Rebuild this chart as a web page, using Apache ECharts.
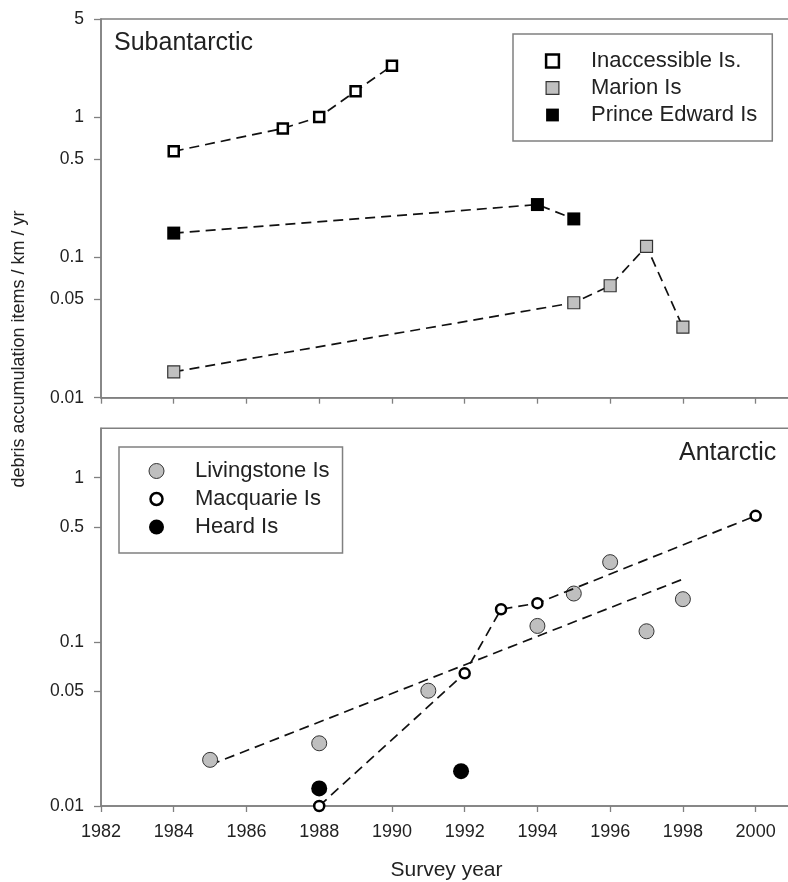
<!DOCTYPE html>
<html>
<head>
<meta charset="utf-8">
<script src="https://cdn.jsdelivr.net/npm/echarts@6/dist/echarts.min.js"></script>
<style>
html,body{margin:0;padding:0;background:#fff;overflow:hidden;}
#chart{width:788px;height:882px;}
</style>
</head>
<body>
<div id="chart"></div>
<script>
// ---- data ----
const xTickYears = [1982, 1984, 1986, 1988, 1990, 1992, 1994, 1996, 1998, 2000];
const topYTicks = [0.01, 0.05, 0.1, 0.5, 1, 5];
const botYTicks = [0.01, 0.05, 0.1, 0.5, 1];

const inaccYears = [1984, 1987, 1988, 1989, 1990];
const inaccVals  = [0.57, 0.83, 1.0, 1.53, 2.32];
const marionYears = [1984, 1995, 1996, 1997, 1998];
const marionVals  = [0.0153, 0.0475, 0.0628, 0.12, 0.0318];
const peYears = [1984, 1994, 1995];
const peVals  = [0.149, 0.238, 0.188];

const livYears = [1985, 1988, 1991, 1994, 1995, 1996, 1997, 1998];
const livVals  = [0.0191, 0.0241, 0.0504, 0.125, 0.197, 0.306, 0.116, 0.182];
const livTrendYears = [1985, 1998];
const livTrendVals  = [0.0178, 0.241];
const macYears = [1988, 1992, 1993, 1994, 2000];
const macVals  = [0.01, 0.0643, 0.158, 0.172, 0.586];
const heardYears = [1988, 1991.9];
const heardVals  = [0.0128, 0.0163];

function pairs(xs, ys) { return xs.map((x, i) => [x, ys[i]]); }

const FONT = '"Liberation Sans", Arial, sans-serif';
const AX = '#808080';
const TXT = '#222';
const dash = { color: '#111', width: 1.7, type: [10, 6] };

const chart = echarts.init(document.getElementById('chart'));

function xAxisCfg(gridIndex, showLabels) {
  return {
    type: 'value', gridIndex, min: 1982, max: 2001, interval: 2,
    axisLine: { show: true, lineStyle: { color: AX, width: 1.5 } },
    axisTick: { show: true, length: 6, lineStyle: { color: AX, width: 1.3 }, customValues: xTickYears },
    axisLabel: { show: showLabels, margin: 17, fontSize: 18, color: TXT, fontFamily: FONT, customValues: xTickYears,
      formatter: v => String(Math.round(v)) },
    splitLine: { show: false },
    name: showLabels ? 'Survey year' : '',
    nameLocation: 'middle', nameGap: 54,
    nameTextStyle: { fontSize: 21, color: TXT, fontFamily: FONT }
  };
}
function yAxisCfg(gridIndex, max, ticks) {
  return {
    type: 'log', logBase: 10, gridIndex, min: 0.01, max,
    axisLine: { show: true, lineStyle: { color: AX, width: 1.5 } },
    axisTick: { show: true, length: 7, lineStyle: { color: AX, width: 1.3 }, customValues: ticks },
    axisLabel: { margin: 17, fontSize: 17.5, color: TXT, fontFamily: FONT, customValues: ticks,
      formatter: v => String(+(+v).toPrecision(6)) },
    splitLine: { show: false },
    minorTick: { show: false }
  };
}

const option = {
  animation: false,
  backgroundColor: '#fff',
  textStyle: { fontFamily: FONT },
  grid: [
    { left: 101, top: 19, width: 691, height: 378.7, outerBoundsMode: 'none', containLabel: false,
      show: true, borderColor: AX, borderWidth: 1.5, backgroundColor: 'transparent' },
    { left: 101, top: 428.3, width: 691, height: 377.7, outerBoundsMode: 'none', containLabel: false,
      show: true, borderColor: AX, borderWidth: 1.5, backgroundColor: 'transparent' }
  ],
  xAxis: [xAxisCfg(0, false), xAxisCfg(1, true)],
  yAxis: [yAxisCfg(0, 5, topYTicks), yAxisCfg(1, 2, botYTicks)],
  title: [
    { text: 'Subantarctic', left: 114, top: 31, padding: 0, textStyle: { fontSize: 25, fontWeight: 'normal', color: TXT, fontFamily: FONT } },
    { text: 'Antarctic', left: 679, top: 441, padding: 0, textStyle: { fontSize: 25, fontWeight: 'normal', color: TXT, fontFamily: FONT } }
  ],
  graphic: [
    { type: 'text', x: 19.5, y: 349, rotation: Math.PI / 2,
      style: { text: 'debris accumulation items / km / yr', fontSize: 18, fill: TXT, fontFamily: FONT, align: 'center', verticalAlign: 'middle' } }
  ],
  legend: [
    {
      left: 513, top: 34, orient: 'vertical',
      padding: [16, 15, 15, 5], itemGap: 5,
      itemWidth: 67, itemHeight: 16,
      borderColor: AX, borderWidth: 1.5, backgroundColor: '#fff',
      textStyle: { fontSize: 22, lineHeight: 22, color: TXT, fontFamily: FONT },
      lineStyle: { opacity: 0 },
      data: [
        { name: 'Inaccessible Is.', itemStyle: { borderWidth: 2.5 } },
        { name: 'Marion Is', itemStyle: { borderWidth: 1.2 } },
        { name: 'Prince Edward Is', itemStyle: { borderWidth: 0 } }
      ]
    },
    {
      left: 119, top: 447, orient: 'vertical',
      padding: [13, 13, 15, 3], itemGap: 6,
      itemWidth: 67, itemHeight: 15,
      borderColor: AX, borderWidth: 1.5, backgroundColor: '#fff',
      textStyle: { fontSize: 22, lineHeight: 22, color: TXT, fontFamily: FONT },
      lineStyle: { opacity: 0 },
      data: [
        { name: 'Livingstone Is', itemStyle: { borderWidth: 1 } },
        { name: 'Macquarie Is', itemStyle: { borderWidth: 2.5 } },
        { name: 'Heard Is', itemStyle: { borderWidth: 0 } }
      ]
    }
  ],
  series: [
    { name: 'Inaccessible Is.', type: 'line', xAxisIndex: 0, yAxisIndex: 0, clip: false,
      data: pairs(inaccYears, inaccVals), symbol: 'rect', symbolSize: 10,
      itemStyle: { color: '#fff', borderColor: '#000', borderWidth: 2.5 }, lineStyle: dash, z: 3 },
    { name: 'Marion Is', type: 'line', xAxisIndex: 0, yAxisIndex: 0, clip: false,
      data: pairs(marionYears, marionVals), symbol: 'rect', symbolSize: 12,
      itemStyle: { color: '#c0c0c0', borderColor: '#333', borderWidth: 1.2 }, lineStyle: dash, z: 3 },
    { name: 'Prince Edward Is', type: 'line', xAxisIndex: 0, yAxisIndex: 0, clip: false,
      data: pairs(peYears, peVals), symbol: 'rect', symbolSize: 13,
      itemStyle: { color: '#000', borderWidth: 0 }, lineStyle: dash, z: 3 },

    { name: 'Livingstone trend', type: 'line', xAxisIndex: 1, yAxisIndex: 1, clip: false,
      data: pairs(livTrendYears, livTrendVals), symbol: 'none', lineStyle: dash, z: 2, silent: true },
    { name: 'Livingstone Is', type: 'scatter', xAxisIndex: 1, yAxisIndex: 1, clip: false,
      data: pairs(livYears, livVals), symbol: 'circle', symbolSize: 15,
      itemStyle: { color: '#bfbfbf', borderColor: '#333', borderWidth: 1, opacity: 1 }, z: 3 },
    { name: 'Macquarie Is', type: 'line', xAxisIndex: 1, yAxisIndex: 1, clip: false,
      data: pairs(macYears, macVals), symbol: 'circle', symbolSize: 10,
      itemStyle: { color: '#fff', borderColor: '#000', borderWidth: 2.5 }, lineStyle: dash, z: 4 },
    { name: 'Heard Is', type: 'scatter', xAxisIndex: 1, yAxisIndex: 1, clip: false,
      data: pairs(heardYears, heardVals), symbol: 'circle', symbolSize: 16,
      itemStyle: { color: '#000', borderWidth: 0, opacity: 1 }, z: 3 }
  ]
};
chart.setOption(option);
</script>
</body>
</html>
